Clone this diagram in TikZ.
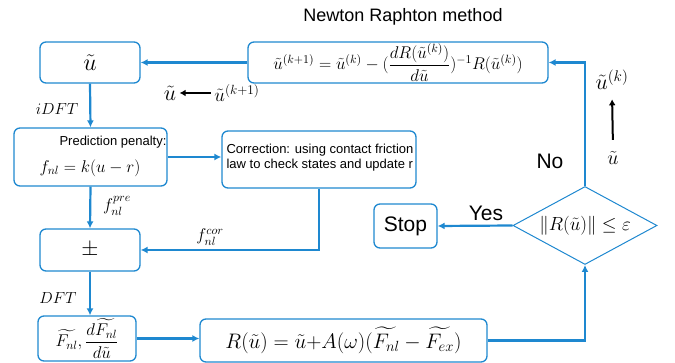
\documentclass[tikz,border=0pt]{standalone}
\usepackage{fix-cm}
\usepackage{amsmath}
\usepackage[no-math]{fontspec}
\newfontfamily\arialfont{Liberation Sans}
\usetikzlibrary{arrows.meta,shapes.geometric}
\definecolor{nrblue}{RGB}{30,136,208}
\newcommand\fsz[1]{\fontsize{#1}{#1}\selectfont}
\tikzset{
  box/.style={draw=nrblue,line width=1.3pt,rounded corners=6pt,inner sep=0pt},
  flow/.style={draw=nrblue,line width=2.2pt,-{Latex[length=7pt,width=7pt]}},
  blk/.style={line width=2pt,-{Latex[length=6pt,width=7pt]}},
}
\begin{document}
\begin{tikzpicture}[x=1pt,y=-1pt]
        \useasboundingbox (0,0) rectangle (675,363);
        % boxes
        \node[box,minimum width=100pt,minimum height=41pt] (ut) at (90,62.5) {\fsz{24}$\tilde u$};
        \node[box,minimum width=300pt,minimum height=41pt] (upd) at (398,62.5)
            {\fsz{17}$\tilde u^{(k+1)}=\tilde u^{(k)}-(\dfrac{dR(\tilde u^{(k)})}{d\tilde u})^{-1}R(\tilde u^{(k)})$};
        \node[box,minimum width=153pt,minimum height=58pt] (pred) at (90.5,157) {};
        \node[box,minimum width=194pt,minimum height=57pt] (corr) at (319,159.5) {};
        \node[box,minimum width=100pt,minimum height=42pt] (pm) at (90,250) {\fsz{22}$\pm$};
        \node[box,minimum width=98pt,minimum height=45pt] (fnl) at (87,338.5)
            {\fsz{17}$\widetilde{F_{nl}},\dfrac{d\widetilde{F_{nl}}}{d\tilde u}$};
        \node[box,minimum width=287pt,minimum height=43pt] (resid) at (343.5,340.5)
            {\fsz{21}$R(\tilde u)=\tilde u{+}A(\omega)(\widetilde{F_{nl}}-\widetilde{F_{ex}})$};
        \node[diamond,draw=nrblue,line width=1pt,inner sep=0pt,aspect=1.85,
              minimum width=144pt,minimum height=78pt] (chk) at (585,225.5)
            {\fsz{19}$\|R(\tilde u)\|\le\varepsilon$};
        \node[box,minimum width=63pt,minimum height=44pt] (stop) at (405.5,226) {\arialfont\fsz{21}Stop};

        % texts
        \node (title) at (403,17) {\arialfont\fsz{18}Newton Raphton method};
        \node (predtxt) at (113,142) {\arialfont\fsz{13}Prediction penalty:};
        \node (predeq) at (90,168) {\fsz{17}$f_{nl}=k(u-r)$};
        \node[align=left,anchor=west,font=\arialfont\fontsize{13}{15}\selectfont] (corrtxt) at (223,158)
            {Correction: using contact friction\\law to check states and update r};
        \node (idft) at (57,109) {\fsz{16}$iDFT$};
        \node (dft) at (58,298) {\fsz{16}$DFT$};
        \node (fpre) at (117,206) {\fsz{17}$f_{nl}^{pre}$};
        \node (fcor) at (210,237) {\fsz{17}$f_{nl}^{cor}$};
        \node (yes) at (486,213) {\arialfont\fsz{21}Yes};
        \node (no) at (550,161) {\arialfont\fsz{21}No};
        \node (uk) at (612,80) {\fsz{22}$\tilde u^{(k)}$};
        \node (ub) at (613,158) {\fsz{20}$\tilde u$};
        \node (uold) at (170,93) {\fsz{22}$\tilde u$};
        \node (unew) at (237,93) {\fsz{19}$\tilde u^{(k+1)}$};

        % connectors
        \draw[flow] (ut.south) -- (pred.north);
        \draw[flow] (pred.south) -- (pm.north);
        \draw[flow] (pm.south) -- (pm.south |- fnl.north);
        \draw[flow] (fnl.east) -- (fnl.east -| resid.west);
        \draw[flow] (resid.east) -| (chk.south);
        \draw[flow] (chk.west) -- (stop.east);
        \draw[flow] (chk.north) |- (upd.east);
        \draw[flow] (upd.west) -- (ut.east);
        \draw[flow] (pred.east) -- (pred.east -| corr.west);
        \draw[flow] (corr.south) |- (pm.east);
        \draw[blk] (unew.west) -- (uold.east);
        \draw[blk,shorten <=8pt,shorten >=6pt] (ub.north) -- (uk.south);
\end{tikzpicture}
\end{document}
